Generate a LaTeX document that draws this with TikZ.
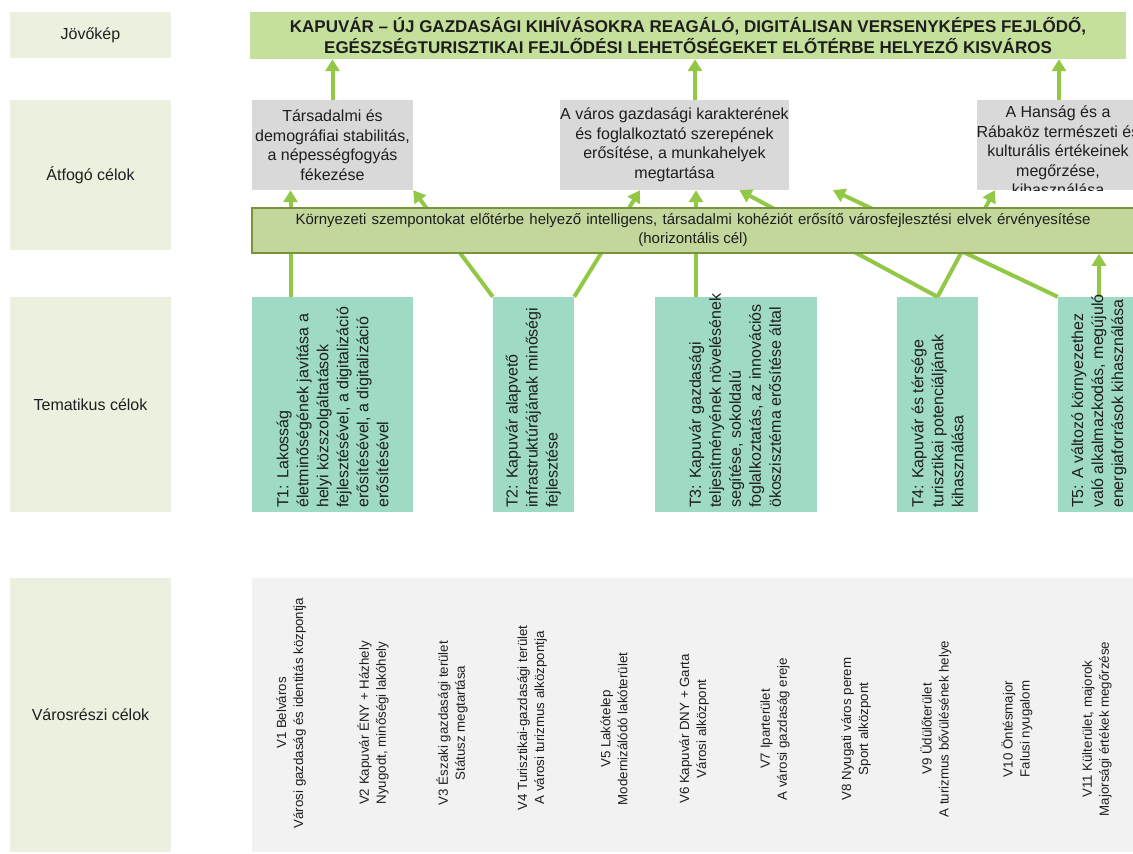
\documentclass[tikz,border=0pt]{standalone}
\usepackage{fontspec}
\setmainfont{Liberation Sans}
\usepackage{xcolor}
\usetikzlibrary{arrows.meta}
\definecolor{lblbg}{RGB}{235,241,222}
\definecolor{visbg}{RGB}{197,224,155}
\definecolor{goalbg}{RGB}{217,217,217}
\definecolor{hzbg}{RGB}{195,214,155}
\definecolor{hzline}{RGB}{119,147,60}
\definecolor{tbg}{RGB}{158,218,196}
\definecolor{vbg}{RGB}{242,242,242}
\definecolor{arrgreen}{RGB}{146,200,70}
\definecolor{txt}{RGB}{30,30,30}
\tikzset{
  lbl/.style={fill=lblbg, minimum width=161, inner sep=0, text=txt, font=\fontsize{16}{19}\selectfont},
  vision/.style={fill=visbg, inner sep=0, align=center, text=txt, font=\fontsize{17}{21}\selectfont\bfseries},
  goal/.style={fill=goalbg, minimum height=90, inner sep=0, align=center, text=txt, font=\fontsize{16}{19.5}\selectfont},
  hzgoal/.style={fill=hzbg, draw=hzline, line width=1.5, minimum height=45, inner sep=0, align=center, text=txt, font=\fontsize{15}{19}\selectfont},
  tbox/.style={fill=tbg, minimum height=215, inner sep=0},
  ttext/.style={rotate=90, anchor=west, align=left, inner sep=0, text=txt, font=\fontsize{16}{20}\selectfont},
  vtext/.style={rotate=90, align=center, inner sep=0, text=txt, font=\fontsize{13.3}{17}\selectfont},
  arr/.style={draw=arrgreen, line width=4, -{Triangle[width=14,length=12]}, fill=arrgreen}
}
\begin{document}
\begin{tikzpicture}[x=1pt,y=-1pt]
\useasboundingbox[fill=white] (0,0) rectangle (1133,854);

\node[lbl, minimum height=46] (jk) at (90.5,35) {Jövőkép};
\node[lbl, minimum height=150] (af) at (90.5,175) {Átfogó célok};
\node[lbl, minimum height=215] (tm) at (90.5,404.5) {Tematikus célok};
\node[lbl, minimum height=274] (vr) at (90.5,715) {Városrészi célok};

\node[vision, minimum width=876, minimum height=47] (vk) at (688,35.5) {KAPUVÁR – ÚJ GAZDASÁGI KIHÍVÁSOKRA REAGÁLÓ, DIGITÁLISAN VERSENYKÉPES FEJLŐDŐ,\\EGÉSZSÉGTURISZTIKAI FEJLŐDÉSI LEHETŐSÉGEKET ELŐTÉRBE HELYEZŐ KISVÁROS};

\node[goal, minimum width=161] (a1) at (332.5,145) {Társadalmi és\\demográfiai stabilitás,\\a népességfogyás\\fékezése};
\node[goal, minimum width=203] (a2) at (674.5,145) {A város gazdasági karakterének\\és foglalkoztató szerepének\\erősítése, a munkahelyek\\megtartása};
\node[goal, minimum width=164] (a3) at (1059,145) {};
\begin{scope}
\clip (a3.north west) rectangle (a3.south east);
\node[goal, fill=none] (a3t) at (1058,151) {A Hanság és a\\Rábaköz természeti és\\kulturális értékeinek\\megőrzése,\\kihasználása};
\end{scope}

\node[tbox, minimum width=161] (t1) at (332.5,404.5) {};
\node[tbox, minimum width=81] (t2) at (533.5,404.5) {};
\node[tbox, minimum width=162] (t3) at (736,404.5) {};
\node[tbox, minimum width=81] (t4) at (937.5,404.5) {};
\node[tbox, minimum width=82] (t5) at (1099,404.5) {};

\node[fill=vbg, minimum width=882, minimum height=274, inner sep=0] (vb) at (693,715) {};

\draw[arr] (a1.north) -- (a1.north |- vk.south);
\draw[arr] ([xshift=20.5]a2.north) -- ([xshift=20.5]a2.north |- vk.south);
\draw[arr] (a3.north) -- (a3.north |- vk.south);

\coordinate (a2gap) at ([xshift=44]a2.south east);
\draw[arr] ([xshift=-42]t1.north) -- ([xshift=-42]t1.north |- a1.south);
\draw[arr] (t2.north west) -- (a1.south east);
\draw[arr] (t2.north east) -- ([xshift=80]a2.south west);
\draw[arr] ([xshift=-40]t3.north) -- ([xshift=-40]t3.north |- a2.south);
\draw[arr] (t4.north) -- ([xshift=65]a2.south);
\draw[arr] (t5.north west) -- (a2gap);
\draw[arr] (t4.north) -- ([xshift=18]a3.south west);

\node[hzgoal, minimum width=882] (hz) at (693,230.5) {\makebox[795pt][s]{Környezeti szempontokat előtérbe helyező intelligens, társadalmi kohéziót erősítő városfejlesztési elvek érvényesítése}\\(horizontális cél)};
\draw[arr] (t5.north) -- (t5.north |- hz.south);

\node[ttext] (t1t) at (332.5,508) {T1: Lakosság\\életminőségének javítása a\\helyi közszolgáltatások\\fejlesztésével, a digitalizáció\\erősítésével, a digitalizáció\\erősítésével};
\node[ttext] (t2t) at (533.5,508) {T2: Kapuvár alapvető\\infrastruktúrájának minőségi\\fejlesztése};
\node[ttext] (t3t) at (735,508) {T3: Kapuvár gazdasági\\teljesítményének növelésének\\segítése, sokoldalú\\foglalkoztatás, az innovációs\\ökoszisztéma erősítése által};
\node[ttext] (t4t) at (937.5,508) {T4: Kapuvár és térsége\\turisztikai potenciáljának\\kihasználása};
\node[ttext] (t5t) at (1099,508) {T5: A változó környezethez\\való alkalmazkodás, megújuló\\energiaforrások kihasználása};

\node[vtext] (v1) at (291,713) {V1 Belváros\\Városi gazdaság és identitás központja};
\node[vtext] (v2) at (373,723) {V2 Kapuvár ÉNY + Házhely\\Nyugodt, minőségi lakóhely};
\node[vtext] (v3) at (452,723) {V3 Északi gazdasági terület\\Státusz megtartása};
\node[vtext] (v4) at (532,718) {V4 Turisztikai-gazdasági terület\\A városi turizmus alközpontja};
\node[vtext] (v5) at (614,729) {V5 Lakótelep\\Modernizálódó lakóterület};
\node[vtext] (v6) at (694,729) {V6 Kapuvár DNY + Garta\\Városi alközpont};
\node[vtext] (v7) at (775,729) {V7 Iparterület\\A városi gazdaság ereje};
\node[vtext] (v8) at (856,729) {V8 Nyugati város perem\\Sport alközpont};
\node[vtext] (v9) at (936,729) {V9 Üdülőterület\\A turizmus bővülésének helye};
\node[vtext] (v10) at (1017,729) {V10 Öntésmajor\\Falusi nyugalom};
\node[vtext] (v11) at (1097,729) {V11 Külterület, majorok\\Majorsági értékek megőrzése};
\end{tikzpicture}
\end{document}
